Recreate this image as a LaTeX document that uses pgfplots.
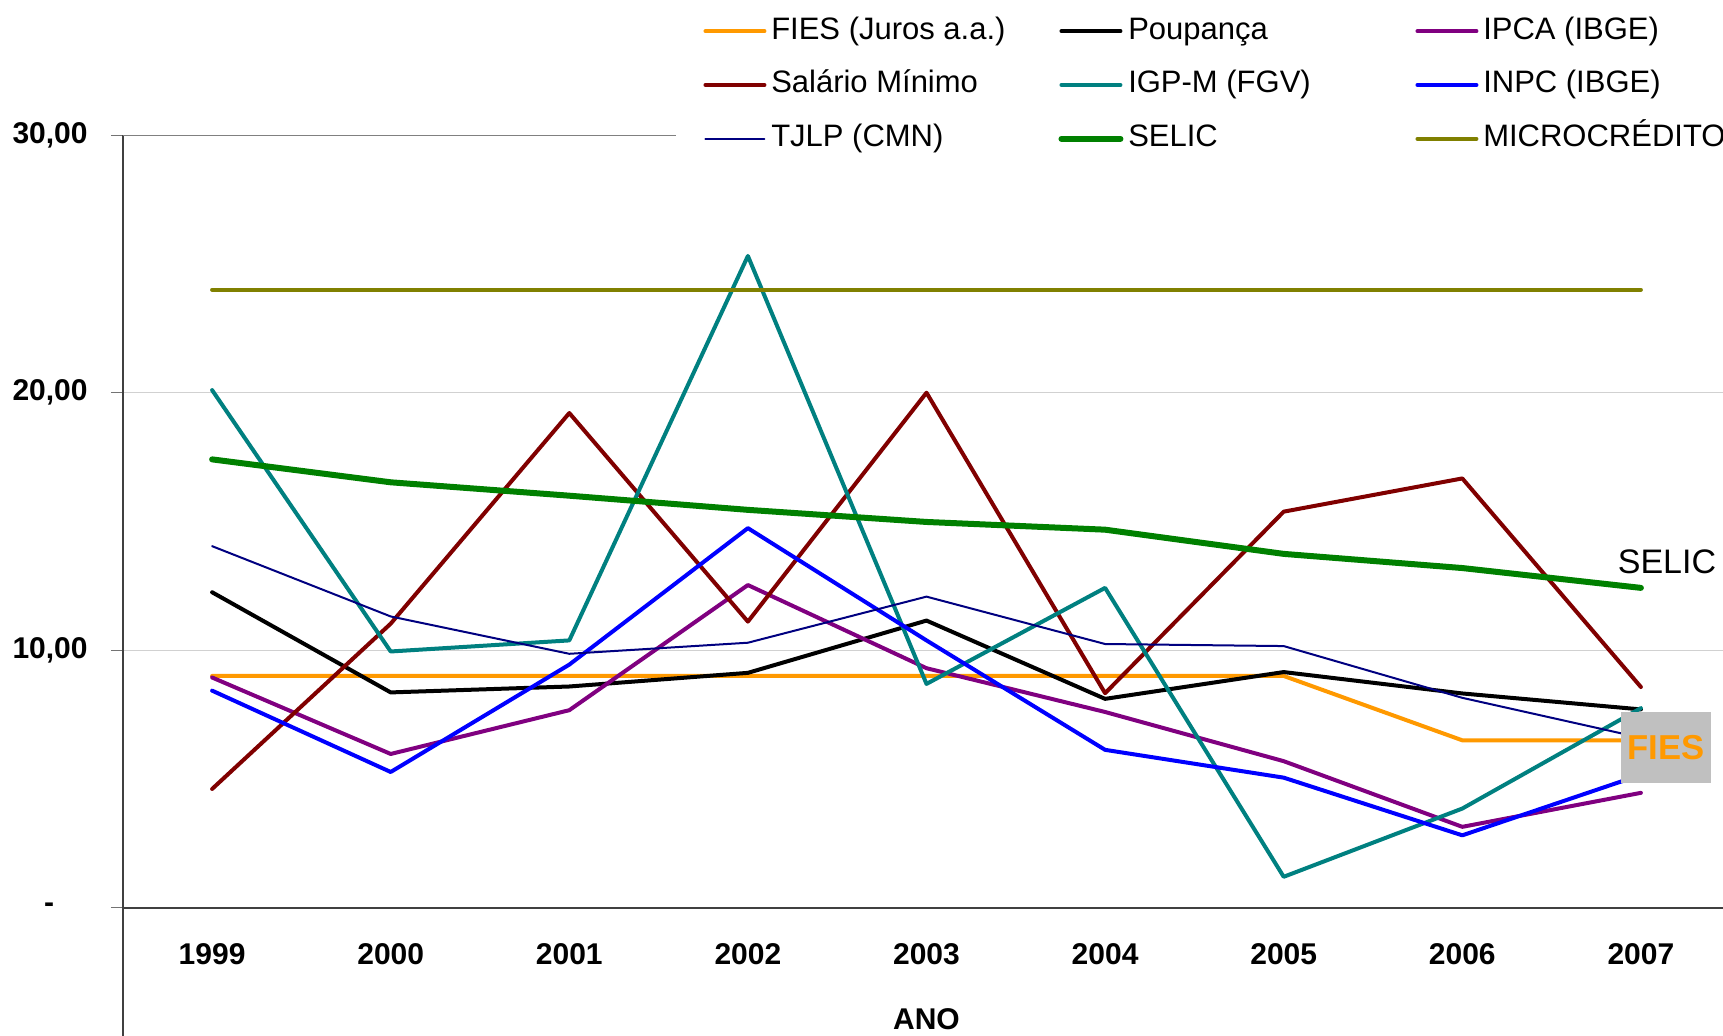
\documentclass[border=0pt]{standalone}
\usepackage{fontspec}
\setmainfont{Liberation Sans}
\usepackage{pgfplots}
\pgfplotsset{compat=1.18}
\definecolor{cfies}{HTML}{FF9900}
\definecolor{cipca}{HTML}{800080}
\definecolor{csal}{HTML}{800000}
\definecolor{cigpm}{HTML}{008080}
\definecolor{cinpc}{HTML}{0000FF}
\definecolor{ctjlp}{HTML}{000080}
\definecolor{cselic}{HTML}{008000}
\definecolor{cmicro}{HTML}{808000}
\definecolor{cbox}{HTML}{C0C0C0}
\pgfplotsset{ser/.style={line width=2pt, line join=round, line cap=round}}
\begin{document}
\begin{tikzpicture}
\begin{axis}[
  at={(61.4pt,64.15pt)}, anchor=south west,
  scale only axis, width=803.7pt, height=386.25pt,
  xmin=-0.5, xmax=8.5, ymin=0, ymax=30,
  clip=false,
  axis x line*=bottom, axis y line*=left,
  x axis line style={black!75, line width=1pt, -},
  y axis line style={black!75, line width=1pt, -},
  xtick={0,1,2,3,4,5,6,7,8},
  xticklabels={1999,2000,2001,2002,2003,2004,2005,2006,2007},
  ytick={0,10,20,30},
  yticklabels={-\hphantom{00},{10,00},{20,00},{30,00}},
  xtick style={draw=none},
  ytick style={black!55, line width=0.6pt},
  tick align=outside, major tick length=6pt,
  ymajorgrids, grid style={black!18, line width=0.5pt},
  xticklabel style={font=\fontsize{15}{18}\selectfont\bfseries, anchor=center, yshift=-17pt},
  yticklabel style={font=\fontsize{15}{18}\selectfont\bfseries, anchor=east, inner xsep=0pt, xshift=-11.4pt},
  xlabel={ANO},
  xlabel style={font=\fontsize{15}{18}\selectfont\bfseries, at={(rel axis cs:0.5,0)}, anchor=center, yshift=-55.5pt},
  legend columns=3,
  legend cell align=left,
  legend image code/.code={\draw[#1, line cap=round] (0pt,0pt) -- (29.5pt,0pt);},
  legend style={draw=none, fill=white, font=\fontsize{15.5}{18}\selectfont,
    at={(0.3442,1.1714)}, anchor=north west,
    inner xsep=13.5pt, inner ysep=6pt, row sep=10.9pt,
    nodes={inner xsep=0pt, inner ysep=0pt, text height=12pt, text depth=4pt},
    /tikz/every odd column/.append style={column sep=2.4pt}},
]
\draw[black!50, line width=0.6pt] (rel axis cs:0,1) -- (rel axis cs:1,1);
\draw[black!75, line width=1pt] (rel axis cs:0,0) -- (rel axis cs:0,-0.25);

\addplot[ser, cfies] coordinates {(0,9) (1,9) (2,9) (3,9) (4,9) (5,9) (6,9) (7,6.5) (8,6.5)};
\addlegendentry{\makebox[143.6pt][l]{FIES (Juros a.a.)}}
\addplot[ser, black] coordinates {(0,12.25) (1,8.36) (2,8.59) (3,9.12) (4,11.15) (5,8.11) (6,9.15) (7,8.32) (8,7.70)};
\addlegendentry{\makebox[143.6pt][l]{Poupança}}
\addplot[ser, cipca] coordinates {(0,8.94) (1,5.97) (2,7.67) (3,12.53) (4,9.30) (5,7.60) (6,5.69) (7,3.14) (8,4.46)};
\addlegendentry{\makebox[143.6pt][l]{IPCA (IBGE)}}
\addplot[ser, csal] coordinates {(0,4.61) (1,11.03) (2,19.21) (3,11.11) (4,20.00) (5,8.33) (6,15.38) (7,16.67) (8,8.57)};
\addlegendentry{\makebox[143.6pt][l]{Salário Mínimo}}
\addplot[ser, cigpm] coordinates {(0,20.10) (1,9.95) (2,10.38) (3,25.31) (4,8.69) (5,12.42) (6,1.20) (7,3.85) (8,7.75)};
\addlegendentry{\makebox[143.6pt][l]{IGP-M (FGV)}}
\addplot[ser, cinpc] coordinates {(0,8.43) (1,5.27) (2,9.44) (3,14.74) (4,10.38) (5,6.13) (6,5.05) (7,2.81) (8,5.16)};
\addlegendentry{\makebox[143.6pt][l]{INPC (IBGE)}}
\addplot[ser, ctjlp, line width=1pt] coordinates {(0,14.04) (1,11.31) (2,9.86) (3,10.29) (4,12.08) (5,10.24) (6,10.16) (7,8.15) (8,6.6)};
\addlegendentry{\makebox[143.6pt][l]{TJLP (CMN)}}
\addplot[ser, cselic, line width=3pt] coordinates {(0,17.41) (1,16.52) (2,16.00) (3,15.45) (4,14.98) (5,14.68) (6,13.74) (7,13.19) (8,12.42)};
\addlegendentry{\makebox[143.6pt][l]{SELIC}}
\addplot[ser, cmicro] coordinates {(0,24) (1,24) (2,24) (3,24) (4,24) (5,24) (6,24) (7,24) (8,24)};
\addlegendentry{\makebox[143.6pt][l]{MICROCRÉDITO}}

\node[font=\fontsize{17}{20}\selectfont] at (axis cs:8.146,13.44) {SELIC};
\node[fill=cbox, minimum width=45pt, minimum height=35.25pt, inner sep=0pt, text=cfies, font=\fontsize{17.3}{20}\selectfont\bfseries] at (axis cs:8.14,6.23) {FIES};
\end{axis}
\pgfresetboundingbox
\useasboundingbox (0,0) rectangle (861.5pt,518pt);
\end{tikzpicture}
\end{document}
